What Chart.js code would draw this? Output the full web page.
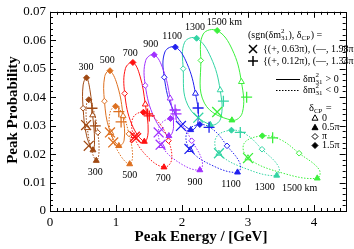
<!DOCTYPE html>
<html>
<head>
<meta charset="utf-8">
<script src="https://cdn.jsdelivr.net/npm/chart.js"></script>
<style>
  html, body { margin: 0; padding: 0; background: #fff; }
  canvas { display: block; }
</style>
</head>
<body>
<canvas id="peakChart" width="354" height="249"></canvas>
<script>
// baselines (km)
const baselines = [300, 500, 700, 900, 1100, 1300, 1500];

// peak energy (GeV) / peak probability around each loop,
// at dCP = 0, pi/4, pi/2, 3pi/4, pi, 5pi/4, 3pi/2, 7pi/4
const nhEnergy = [
  [0.646, 0.675, 0.651, 0.555, 0.502, 0.502, 0.553, 0.605],
  [1.107, 1.123, 1.043, 0.900, 0.825, 0.829, 0.909, 1.028],
  [1.444, 1.487, 1.429, 1.240, 1.132, 1.143, 1.256, 1.364],
  [1.820, 1.872, 1.801, 1.580, 1.444, 1.450, 1.578, 1.715],
  [2.204, 2.241, 2.132, 1.870, 1.731, 1.741, 1.899, 2.076],
  [2.578, 2.584, 2.429, 2.088, 2.018, 2.040, 2.221, 2.437],
  [2.900, 2.915, 2.756, 2.340, 2.285, 2.322, 2.533, 2.758]
];
const nhProb = [
  [0.0337, 0.0247, 0.0214, 0.0264, 0.0361, 0.0443, 0.0468, 0.0426],
  [0.0334, 0.0249, 0.0229, 0.0286, 0.0386, 0.0473, 0.0493, 0.0436],
  [0.0375, 0.0277, 0.0244, 0.0304, 0.0413, 0.0501, 0.0522, 0.0474],
  [0.0396, 0.0296, 0.0264, 0.0328, 0.0441, 0.0529, 0.0549, 0.0497],
  [0.0413, 0.0313, 0.0285, 0.0354, 0.0470, 0.0559, 0.0576, 0.0518],
  [0.0425, 0.0324, 0.0303, 0.0372, 0.0500, 0.0593, 0.0607, 0.0540],
  [0.0454, 0.0346, 0.0319, 0.0379, 0.0529, 0.0622, 0.0634, 0.0569]
];
const ihEnergy = [
  [0.565, 0.629, 0.701, 0.741, 0.724, 0.660, 0.587, 0.548],
  [0.921, 1.057, 1.207, 1.251, 1.196, 1.100, 0.993, 0.906],
  [1.270, 1.475, 1.727, 1.840, 1.795, 1.633, 1.415, 1.256],
  [1.694, 1.970, 2.270, 2.303, 2.147, 1.988, 1.825, 1.655],
  [2.125, 2.477, 2.841, 2.880, 2.682, 2.477, 2.270, 2.074],
  [2.559, 3.000, 3.435, 3.462, 3.212, 2.978, 2.749, 2.516],
  [2.999, 3.529, 4.049, 4.077, 3.774, 3.490, 3.217, 2.942]
];
const ihProb = [
  [0.0292, 0.0214, 0.0177, 0.0202, 0.0276, 0.0354, 0.0391, 0.0365],
  [0.0275, 0.0199, 0.0165, 0.0197, 0.0271, 0.0340, 0.0368, 0.0343],
  [0.0264, 0.0191, 0.0154, 0.0178, 0.0247, 0.0315, 0.0347, 0.0327],
  [0.0229, 0.0168, 0.0144, 0.0178, 0.0247, 0.0306, 0.0325, 0.0296],
  [0.0215, 0.0158, 0.0136, 0.0166, 0.0229, 0.0285, 0.0304, 0.0277],
  [0.0202, 0.0146, 0.0125, 0.0156, 0.0217, 0.0268, 0.0284, 0.0258],
  [0.0186, 0.0133, 0.0115, 0.0146, 0.0203, 0.0251, 0.0264, 0.0238]
];

// true points: x = (+, 0.63pi) / (-, 1.98pi), + = (+, 0.12pi) / (-, 1.34pi)
const crossNhE = [0.587, 0.958, 1.305, 1.646, 1.984, 2.247, 2.533];
const crossNhP = [0.0229, 0.0241, 0.0256, 0.0276, 0.0299, 0.0328, 0.0348];
const crossIhE = [0.547, 0.909, 1.285, 1.676, 2.113, 2.560, 3.000];
const crossIhP = [0.0302, 0.0276, 0.0261, 0.0233, 0.0218, 0.0203, 0.0186];
const plusNhE = [0.686, 1.077, 1.478, 1.895, 2.244, 2.627, 2.979];
const plusNhP = [0.0299, 0.0313, 0.0341, 0.0355, 0.0362, 0.0386, 0.0400];
const plusIhE = [0.636, 1.043, 1.504, 1.909, 2.410, 2.883, 3.373];
const plusIhP = [0.0361, 0.0349, 0.0334, 0.0341, 0.0294, 0.0276, 0.0257];

const xTicks = [0, 1, 2, 3, 4];
const yTicks = [0, 0.01, 0.02, 0.03, 0.04, 0.05, 0.06, 0.07];

const lineColors = ['#a04a14', '#dd7020', '#ff1010', '#a030ff', '#2020ee', '#33d4a4', '#3cf03c'];
const SERIF = '"Liberation Serif", "Times New Roman", serif';

const toPts = (es, ps) => es.map((e, i) => ({ x: e, y: ps[i] }));

const datasets = [];
baselines.forEach((L, i) => {
  datasets.push({
    label: L + ' km, dm31 > 0', data: toPts(nhEnergy[i], nhProb[i]),
    borderColor: lineColors[i], borderWidth: 1, tension: 0.4, spanGaps: true,
    loop: true, pointRadius: 0, order: 10
  });
  datasets.push({
    label: L + ' km, dm31 < 0', data: toPts(ihEnergy[i], ihProb[i]),
    borderColor: lineColors[i], borderWidth: 1, borderDash: [1.5, 1.5], tension: 0.4,
    spanGaps: true, loop: true, pointRadius: 0, order: 10
  });
});

// dCP markers sit on loop points 0, 2, 4, 6
function markerSet(idx, style, filled, radius) {
  const pts = [], border = [], bg = [];
  baselines.forEach((L, i) => {
    pts.push({ x: nhEnergy[i][idx], y: nhProb[i][idx] });
    pts.push({ x: ihEnergy[i][idx], y: ihProb[i][idx] });
    border.push(lineColors[i], lineColors[i]);
    const f = filled ? lineColors[i] : '#fff';
    bg.push(f, f);
  });
  return {
    data: pts, showLine: false, pointStyle: style, pointRadius: radius,
    pointBorderColor: border, pointBackgroundColor: bg, pointBorderWidth: 1, order: 2
  };
}
datasets.push(markerSet(0, 'triangle', false, 3.4));
datasets.push(markerSet(2, 'triangle', true, 3.4));
datasets.push(markerSet(4, 'rectRot', false, 2.8));
datasets.push(markerSet(6, 'rectRot', true, 3));

function truthSet(es1, ps1, es2, ps2, style, radius) {
  const cols = [];
  baselines.forEach((L, i) => cols.push(lineColors[i]));
  return {
    data: toPts(es1, ps1).concat(toPts(es2, ps2)), showLine: false,
    pointStyle: style, pointRadius: radius, pointBorderWidth: 1.3,
    pointBorderColor: cols.concat(cols), pointBackgroundColor: 'rgba(0,0,0,0)', order: 1
  };
}
datasets.push(truthSet(crossNhE, crossNhP, crossIhE, crossIhP, 'crossRot', 7));
datasets.push(truthSet(plusNhE, plusNhP, plusIhE, plusIhP, 'cross', 5.5));

// closes the spline loops
const loopPlugin = {
  id: 'loops',
  afterDatasetUpdate(chart, args) {
    const ds = chart.data.datasets[args.index];
    if (ds.loop && args.meta.dataset) {
      args.meta.dataset._loop = true;
      args.meta.dataset._fullLoop = true;
    }
  }
};

const framePlugin = {
  id: 'frame',
  beforeDatasetsDraw(chart) {
    const { ctx, chartArea: a, scales: { x, y } } = chart;
    const r = v => Math.round(v) + 0.5;
    ctx.save();
    ctx.strokeStyle = '#000';
    ctx.lineWidth = 1;
    ctx.strokeRect(r(a.left), r(a.top), Math.round(a.right - a.left), Math.round(a.bottom - a.top));
    ctx.beginPath();
    for (let k = 0; k <= 44; k++) {
      const px = r(x.getPixelForValue(k / 10));
      const len = k % 10 === 0 ? 6 : 3;
      ctx.moveTo(px, a.bottom); ctx.lineTo(px, a.bottom - len);
      ctx.moveTo(px, a.top); ctx.lineTo(px, a.top + len);
    }
    for (let k = 0; k <= 35; k++) {
      const py = r(y.getPixelForValue(k * 0.002));
      const len = k % 5 === 0 ? 6 : 3;
      ctx.moveTo(a.left, py); ctx.lineTo(a.left + len, py);
      ctx.moveTo(a.right, py); ctx.lineTo(a.right - len, py);
    }
    ctx.stroke();
    ctx.restore();
  }
};

function rich(ctx, x, y, parts, size) {
  let cx = x;
  parts.forEach(p => {
    if (typeof p === 'string') {
      ctx.font = size + 'px ' + SERIF;
      ctx.fillText(p, cx, y);
      cx += ctx.measureText(p).width;
    } else {
      const s = Math.round(size * 0.68);
      ctx.font = s + 'px ' + SERIF;
      if (p[0]) ctx.fillText(p[0], cx, y - size * 0.38);
      if (p[1]) ctx.fillText(p[1], cx, y + size * 0.3);
      cx += Math.max(ctx.measureText(p[0]).width, ctx.measureText(p[1]).width) + 0.5;
    }
  });
  return cx;
}

const textPlugin = {
  id: 'texts',
  afterDatasetsDraw(chart) {
    const { ctx, scales: { x, y } } = chart;
    ctx.save();
    ctx.fillStyle = '#000';
    ctx.textBaseline = 'middle';

    // baseline labels above and below the loops
    const topE = [0.547, 0.869, 1.215, 1.528, 1.850, 2.196, 2.642];
    const topP = [0.0503, 0.0528, 0.0555, 0.0584, 0.0613, 0.0645, 0.0663];
    const botE = [0.687, 1.207, 1.716, 2.196, 2.742, 3.252, 3.782];
    const botP = [0.0136, 0.0125, 0.0113, 0.0101, 0.0093, 0.0084, 0.0078];
    ctx.textAlign = 'center';
    ctx.font = '10px ' + SERIF;
    baselines.forEach((L, i) => {
      const t = i === baselines.length - 1 ? L + ' km' : String(L);
      ctx.fillText(t, x.getPixelForValue(topE[i]), y.getPixelForValue(topP[i]));
      ctx.fillText(t, x.getPixelForValue(botE[i]), y.getPixelForValue(botP[i]));
    });

    // axis titles
    ctx.font = 'bold 15px ' + SERIF;
    ctx.fillText('Peak Energy / [GeV]', 201, 237);
    ctx.save();
    ctx.translate(13, 110);
    ctx.rotate(-Math.PI / 2);
    ctx.fillText('Peak Probability', 0, 0);
    ctx.restore();

    // legend
    ctx.textAlign = 'left';
    ctx.strokeStyle = '#000';
    rich(ctx, 248, 35, ['(sgn(δm', ['2', '31'], '), δ', ['', 'CP'], ') ='], 10);

    ctx.lineWidth = 1.5;
    ctx.beginPath();
    ctx.moveTo(249, 45); ctx.lineTo(257, 53);
    ctx.moveTo(257, 45); ctx.lineTo(249, 53);
    ctx.moveTo(248, 61); ctx.lineTo(258, 61);
    ctx.moveTo(253, 56); ctx.lineTo(253, 66);
    ctx.stroke();
    rich(ctx, 263, 49, ['{(+, 0.63π), (—, 1.98π)}'], 10);
    rich(ctx, 263, 61, ['{(+, 0.12π), (—, 1.34π)}'], 10);

    ctx.lineWidth = 1;
    ctx.beginPath();
    ctx.moveTo(276, 79.5); ctx.lineTo(300, 79.5);
    ctx.stroke();
    ctx.setLineDash([1.5, 1.5]);
    ctx.beginPath();
    ctx.moveTo(276, 90.5); ctx.lineTo(300, 90.5);
    ctx.stroke();
    ctx.setLineDash([]);
    rich(ctx, 303, 79, ['δm', ['2', '31'], ' > 0'], 10);
    rich(ctx, 303, 90, ['δm', ['2', '31'], ' < 0'], 10);

    rich(ctx, 309, 108, ['δ', ['', 'CP'], ' ='], 10.5);

    const sym = (cx, cy, shape, filled) => {
      ctx.beginPath();
      if (shape === 'tri') {
        ctx.moveTo(cx, cy - 3.2); ctx.lineTo(cx + 3, cy + 2.2); ctx.lineTo(cx - 3, cy + 2.2);
      } else {
        ctx.moveTo(cx, cy - 3); ctx.lineTo(cx + 3, cy); ctx.lineTo(cx, cy + 3); ctx.lineTo(cx - 3, cy);
      }
      ctx.closePath();
      ctx.fillStyle = filled ? '#000' : '#fff';
      ctx.fill();
      ctx.stroke();
      ctx.fillStyle = '#000';
    };
    sym(315, 118, 'tri', false);
    sym(315, 127.5, 'tri', true);
    sym(315, 136.5, 'dia', false);
    sym(315, 145.5, 'dia', true);
    rich(ctx, 322, 118, ['0'], 10);
    rich(ctx, 322, 127.5, ['0.5π'], 10);
    rich(ctx, 322, 136.5, ['π'], 10);
    rich(ctx, 322, 145.5, ['1.5π'], 10);
    ctx.restore();
  }
};

new Chart(document.getElementById('peakChart'), {
  type: 'line',
  data: { datasets: datasets },
  options: {
    responsive: false,
    animation: false,
    events: [],
    layout: { padding: { top: 10, right: 2, left: 0, bottom: 0 } },
    plugins: { legend: { display: false }, tooltip: { enabled: false } },
    scales: {
      x: {
        type: 'linear', min: 0, max: 4.48,
        afterFit(scale) { scale.height = 38; },
        grid: { display: false, drawTicks: false },
        border: { display: false },
        afterBuildTicks(scale) { scale.ticks = xTicks.map(v => ({ value: v })); },
        ticks: {
          padding: 4, maxRotation: 0, color: '#000',
          font: { family: SERIF, size: 13 },
          callback: v => String(v)
        }
      },
      y: {
        type: 'linear', min: 0, max: 0.07,
        afterFit(scale) { scale.width = 50; },
        grid: { display: false, drawTicks: false },
        border: { display: false },
        afterBuildTicks(scale) { scale.ticks = yTicks.map(v => ({ value: v })); },
        ticks: {
          padding: 4, color: '#000',
          font: { family: SERIF, size: 13 },
          callback: v => String(v)
        }
      }
    }
  },
  plugins: [loopPlugin, framePlugin, textPlugin]
});
</script>
</body>
</html>
